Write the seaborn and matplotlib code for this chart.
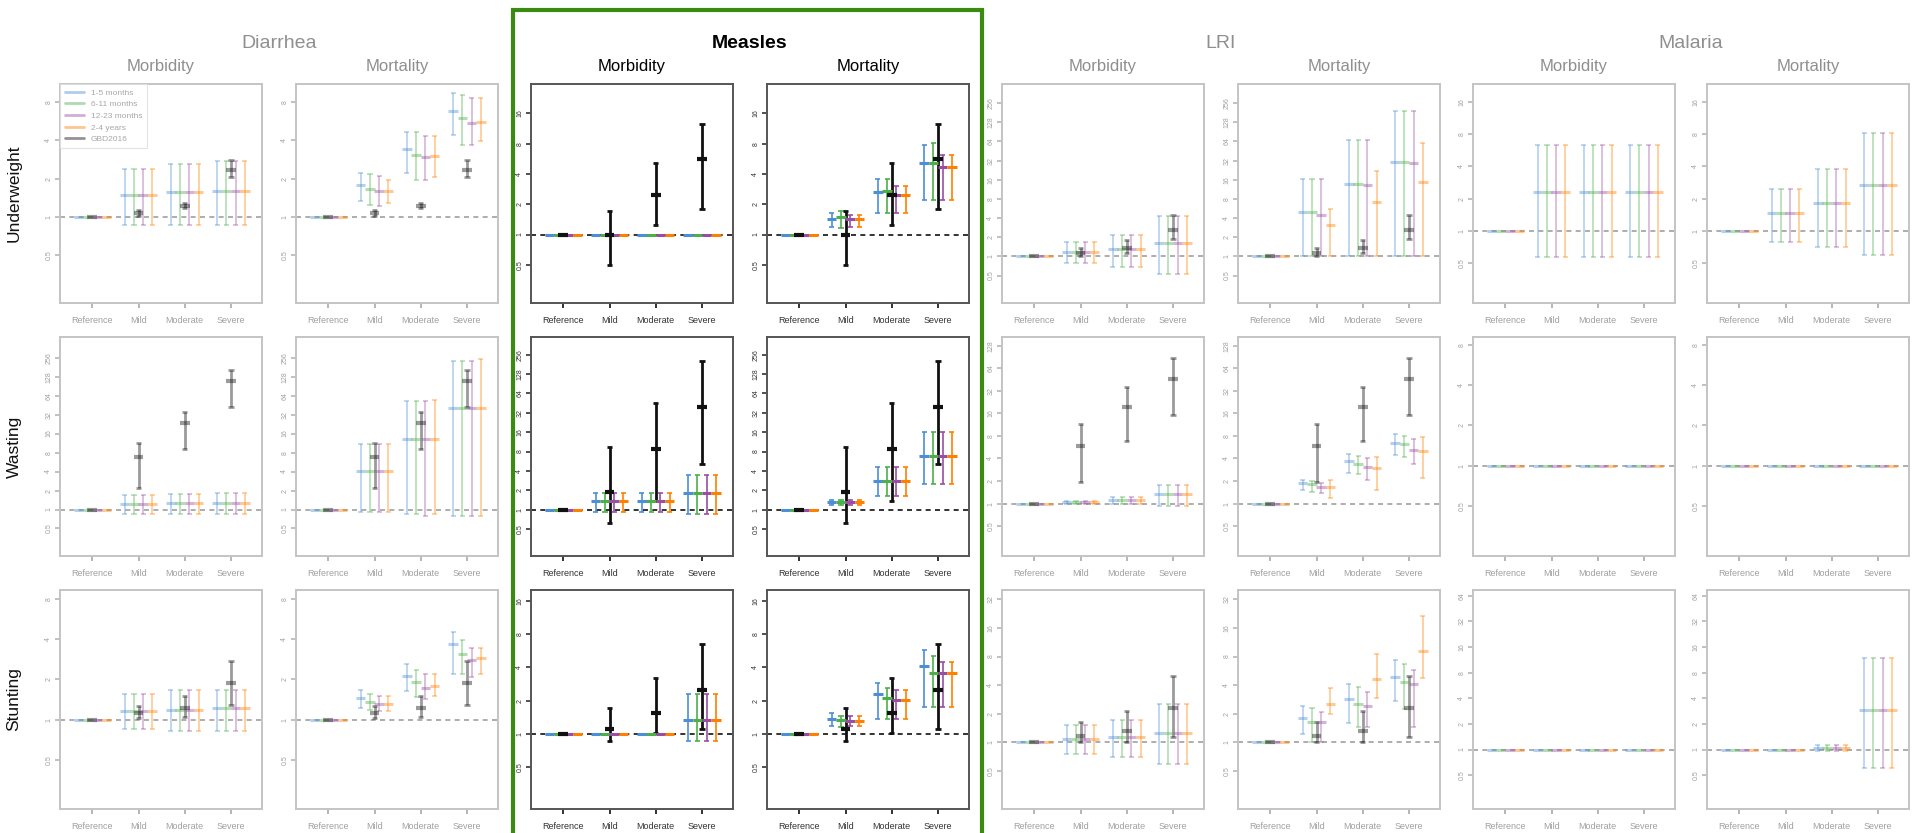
import numpy as np
import pandas as pd
import matplotlib
matplotlib.use("Agg")
import matplotlib.pyplot as plt
from matplotlib.lines import Line2D
from matplotlib.patches import Rectangle
from matplotlib.ticker import FixedLocator, FixedFormatter, NullLocator
import seaborn as sns

n = np.nan

CATEGORIES = ["Reference", "Mild", "Moderate", "Severe"]
SERIES = ["1-5 months", "6-11 months", "12-23 months", "2-4 years", "GBD2016"]
DISEASES = ["Diarrhea", "Measles", "LRI", "Malaria"]
OUTCOMES = ["Morbidity", "Mortality"]
INDICATORS = ["Underweight", "Wasting", "Stunting"]
HIGHLIGHT = "Measles"

# Rows of each array: 1-5 months, 6-11 months, 12-23 months, 2-4 years, GBD2016
# Columns: Reference, Mild, Moderate, Severe
# ---------------- Underweight ----------------
UW_DIAR_MORB_MEAN = [[1, 1.50, 1.56, 1.61], [1, 1.50, 1.56, 1.61], [1, 1.50, 1.56, 1.61], [1, 1.50, 1.56, 1.61], [1, 1.07, 1.23, 2.33]]
UW_DIAR_MORB_LO = [[n, 0.87, 0.87, 0.87], [n, 0.87, 0.87, 0.87], [n, 0.87, 0.87, 0.87], [n, 0.87, 0.87, 0.87], [n, 1.02, 1.17, 2.07]]
UW_DIAR_MORB_HI = [[n, 2.40, 2.59, 2.77], [n, 2.40, 2.59, 2.77], [n, 2.40, 2.59, 2.77], [n, 2.40, 2.59, 2.77], [n, 1.13, 1.29, 2.80]]

UW_DIAR_MORT_MEAN = [[1, 1.78, 3.44, 6.76], [1, 1.67, 3.09, 5.95], [1, 1.61, 2.94, 5.47], [1, 1.61, 3.00, 5.54], [1, 1.07, 1.23, 2.33]]
UW_DIAR_MORT_LO = [[n, 1.34, 2.22, 4.43], [n, 1.25, 1.96, 3.70], [n, 1.23, 1.96, 3.70], [n, 1.30, 2.06, 3.93], [n, 1.02, 1.17, 2.07]]
UW_DIAR_MORT_HI = [[n, 2.20, 4.65, 9.41], [n, 2.18, 4.65, 9.13], [n, 2.09, 4.30, 8.55], [n, 1.96, 4.30, 8.55], [n, 1.13, 1.29, 2.80]]

UW_MEAS_MORB_MEAN = [[1, 1, 1, 1], [1, 1, 1, 1], [1, 1, 1, 1], [1, 1, 1, 1], [1, 1.00, 2.49, 5.64]]
UW_MEAS_MORB_LO = [[n, n, n, n], [n, n, n, n], [n, n, n, n], [n, n, n, n], [n, 0.50, 1.25, 1.80]]
UW_MEAS_MORB_HI = [[n, n, n, n], [n, n, n, n], [n, n, n, n], [n, n, n, n], [n, 1.73, 5.14, 12.4]]

UW_MEAS_MORT_MEAN = [[1, 1.43, 2.67, 5.14], [1, 1.50, 2.73, 5.14], [1, 1.43, 2.49, 4.69], [1, 1.43, 2.49, 4.69], [1, 1.00, 2.49, 5.64]]
UW_MEAS_MORT_LO = [[n, 1.18, 1.64, 2.22], [n, 1.15, 1.64, 2.22], [n, 1.18, 1.64, 2.22], [n, 1.18, 1.64, 2.22], [n, 0.50, 1.25, 1.80]]
UW_MEAS_MORT_HI = [[n, 1.64, 3.57, 7.82], [n, 1.70, 3.57, 8.13], [n, 1.58, 3.02, 6.22], [n, 1.56, 3.06, 6.22], [n, 1.73, 5.14, 12.4]]

UW_LRI_MORB_MEAN = [[1, 1.17, 1.30, 1.62], [1, 1.17, 1.30, 1.62], [1, 1.17, 1.30, 1.62], [1, 1.17, 1.30, 1.62], [1, 1.13, 1.35, 2.62]]
UW_LRI_MORB_LO = [[n, 0.79, 0.67, 0.53], [n, 0.79, 0.67, 0.53], [n, 0.79, 0.67, 0.53], [n, 0.79, 0.67, 0.53], [n, 1.00, 1.13, 1.87]]
UW_LRI_MORB_HI = [[n, 1.68, 2.19, 4.25], [n, 1.68, 2.19, 4.25], [n, 1.68, 2.19, 4.25], [n, 1.68, 2.19, 4.25], [n, 1.35, 1.78, 4.51]]

UW_LRI_MORT_MEAN = [[1, 4.91, 13.8, 30.3], [1, 4.91, 13.8, 30.3], [1, 4.51, 13.2, 29.2], [1, 3.10, 7.05, 14.5], [1, 1.13, 1.35, 2.62]]
UW_LRI_MORT_LO = [[n, 1.0, 1.0, 1.0], [n, 1.0, 1.0, 1.0], [n, 1.0, 1.0, 1.0], [n, 1.0, 1.0, 1.0], [n, 1.00, 1.13, 1.87]]
UW_LRI_MORT_HI = [[n, 16.6, 66.4, 194], [n, 16.6, 66.4, 194], [n, 16.6, 66.4, 194], [n, 5.61, 22.2, 60.3], [n, 1.35, 1.78, 4.51]]

UW_MAL_MORB_MEAN = [[1, 2.30, 2.30, 2.30], [1, 2.30, 2.30, 2.30], [1, 2.30, 2.30, 2.30], [1, 2.30, 2.30, 2.30], [n, n, n, n]]
UW_MAL_MORB_LO = [[n, 0.57, 0.57, 0.57], [n, 0.57, 0.57, 0.57], [n, 0.57, 0.57, 0.57], [n, 0.57, 0.57, 0.57], [n, n, n, n]]
UW_MAL_MORB_HI = [[n, 6.38, 6.38, 6.38], [n, 6.38, 6.38, 6.38], [n, 6.38, 6.38, 6.38], [n, 6.38, 6.38, 6.38], [n, n, n, n]]

UW_MAL_MORT_MEAN = [[1, 1.46, 1.82, 2.69], [1, 1.46, 1.82, 2.69], [1, 1.46, 1.82, 2.69], [1, 1.46, 1.82, 2.69], [n, n, n, n]]
UW_MAL_MORT_LO = [[n, 0.79, 0.70, 0.59], [n, 0.79, 0.70, 0.59], [n, 0.79, 0.70, 0.59], [n, 0.79, 0.70, 0.59], [n, n, n, n]]
UW_MAL_MORT_HI = [[n, 2.47, 3.80, 8.20], [n, 2.47, 3.80, 8.20], [n, 2.47, 3.80, 8.20], [n, 2.47, 3.80, 8.20], [n, n, n, n]]

# ---------------- Wasting ----------------
WA_DIAR_MORB_MEAN = [[1, 1.23, 1.26, 1.29], [1, 1.23, 1.26, 1.29], [1, 1.23, 1.26, 1.29], [1, 1.23, 1.26, 1.29], [1, 6.70, 23.9, 109]]
WA_DIAR_MORB_LO = [[n, 0.85, 0.85, 0.85], [n, 0.85, 0.85, 0.85], [n, 0.85, 0.85, 0.85], [n, 0.85, 0.85, 0.85], [n, 2.20, 9.07, 42.8]]
WA_DIAR_MORB_HI = [[n, 1.68, 1.77, 1.86], [n, 1.68, 1.77, 1.86], [n, 1.68, 1.77, 1.86], [n, 1.68, 1.77, 1.86], [n, 11.3, 35.7, 162]]

WA_DIAR_MORT_MEAN = [[1, 4.03, 13.1, 41.3], [1, 4.03, 13.1, 41.3], [1, 4.03, 13.1, 41.3], [1, 4.03, 13.1, 41.3], [1, 6.70, 23.9, 109]]
WA_DIAR_MORT_LO = [[n, 0.91, 0.85, 0.80], [n, 0.91, 0.85, 0.80], [n, 0.91, 0.80, 0.78], [n, 0.91, 0.85, 0.80], [n, 2.20, 9.07, 42.8]]
WA_DIAR_MORT_HI = [[n, 11.0, 52.6, 228], [n, 11.0, 52.6, 228], [n, 11.0, 52.6, 228], [n, 11.0, 55.0, 240], [n, 11.3, 35.7, 162]]

WA_MEAS_MORB_MEAN = [[1, 1.35, 1.35, 1.79], [1, 1.35, 1.35, 1.79], [1, 1.35, 1.35, 1.79], [1, 1.35, 1.35, 1.79], [1, 1.88, 8.81, 39.9]]
WA_MEAS_MORB_LO = [[n, 0.91, 0.91, 0.87], [n, 0.91, 0.91, 0.87], [n, 0.91, 0.91, 0.87], [n, 0.91, 0.91, 0.87], [n, 0.61, 1.35, 5.10]]
WA_MEAS_MORB_HI = [[n, 1.81, 1.81, 3.40], [n, 1.81, 1.81, 3.40], [n, 1.81, 1.81, 3.40], [n, 1.81, 1.81, 3.40], [n, 9.35, 44.9, 206]]

WA_MEAS_MORT_MEAN = [[1, 1.30, 2.75, 6.94], [1, 1.30, 2.75, 6.94], [1, 1.30, 2.75, 6.94], [1, 1.30, 2.75, 6.94], [1, 1.88, 8.81, 39.9]]
WA_MEAS_MORT_LO = [[n, 1.18, 1.65, 2.53], [n, 1.18, 1.65, 2.53], [n, 1.18, 1.65, 2.53], [n, 1.18, 1.65, 2.53], [n, 0.61, 1.35, 5.10]]
WA_MEAS_MORT_HI = [[n, 1.43, 4.53, 16.2], [n, 1.43, 4.53, 16.2], [n, 1.43, 4.53, 16.2], [n, 1.43, 4.53, 16.2], [n, 9.35, 44.9, 206]]

WA_LRI_MORB_MEAN = [[1, 1.04, 1.13, 1.34], [1, 1.04, 1.13, 1.34], [1, 1.04, 1.13, 1.34], [1, 1.04, 1.13, 1.34], [1, 5.89, 19.2, 45.3]]
WA_LRI_MORB_LO = [[n, 1.00, 1.00, 0.94], [n, 1.00, 1.00, 0.94], [n, 1.00, 1.00, 0.94], [n, 1.00, 1.00, 0.94], [n, 1.94, 6.87, 15.4]]
WA_LRI_MORB_HI = [[n, 1.09, 1.23, 1.75], [n, 1.09, 1.23, 1.75], [n, 1.09, 1.23, 1.75], [n, 1.09, 1.23, 1.75], [n, 11.7, 35.4, 88.7]]

WA_LRI_MORT_MEAN = [[1, 1.88, 3.65, 6.39], [1, 1.84, 3.40, 6.20], [1, 1.65, 3.04, 5.21], [1, 1.65, 2.98, 5.06], [1, 5.89, 19.2, 45.3]]
WA_LRI_MORT_LO = [[n, 1.50, 2.55, 4.47], [n, 1.43, 2.50, 4.25], [n, 1.39, 2.08, 3.40], [n, 1.19, 1.53, 2.19], [n, 1.94, 6.87, 15.4]]
WA_LRI_MORT_HI = [[n, 2.08, 4.61, 8.50], [n, 1.98, 4.34, 8.08], [n, 1.88, 4.12, 7.22], [n, 2.08, 4.25, 7.68], [n, 11.7, 35.4, 88.7]]

WA_MAL_MORB_MEAN = [[1, 1, 1, 1], [1, 1, 1, 1], [1, 1, 1, 1], [1, 1, 1, 1], [n, n, n, n]]
WA_MAL_MORB_LO = [[n, n, n, n], [n, n, n, n], [n, n, n, n], [n, n, n, n], [n, n, n, n]]
WA_MAL_MORB_HI = [[n, n, n, n], [n, n, n, n], [n, n, n, n], [n, n, n, n], [n, n, n, n]]

WA_MAL_MORT_MEAN = [[1, 1, 1, 1], [1, 1, 1, 1], [1, 1, 1, 1], [1, 1, 1, 1], [n, n, n, n]]
WA_MAL_MORT_LO = [[n, n, n, n], [n, n, n, n], [n, n, n, n], [n, n, n, n], [n, n, n, n]]
WA_MAL_MORT_HI = [[n, n, n, n], [n, n, n, n], [n, n, n, n], [n, n, n, n], [n, n, n, n]]

# ---------------- Stunting ----------------
ST_DIAR_MORB_MEAN = [[1, 1.17, 1.19, 1.22], [1, 1.17, 1.19, 1.22], [1, 1.17, 1.19, 1.22], [1, 1.17, 1.19, 1.22], [1, 1.13, 1.22, 1.87]]
ST_DIAR_MORB_LO = [[n, 0.86, 0.83, 0.82], [n, 0.86, 0.83, 0.82], [n, 0.86, 0.83, 0.82], [n, 0.86, 0.83, 0.82], [n, 1.03, 1.05, 1.29]]
ST_DIAR_MORB_HI = [[n, 1.55, 1.67, 1.67], [n, 1.55, 1.67, 1.67], [n, 1.55, 1.67, 1.67], [n, 1.55, 1.67, 1.67], [n, 1.27, 1.51, 2.75]]

ST_DIAR_MORT_MEAN = [[1, 1.45, 2.12, 3.65], [1, 1.35, 1.91, 3.08], [1, 1.31, 1.72, 2.79], [1, 1.31, 1.79, 2.87], [1, 1.13, 1.22, 1.87]]
ST_DIAR_MORT_LO = [[n, 1.22, 1.65, 2.19], [n, 1.19, 1.49, 2.19], [n, 1.17, 1.43, 2.10], [n, 1.17, 1.51, 2.19], [n, 1.03, 1.05, 1.29]]
ST_DIAR_MORT_HI = [[n, 1.67, 2.59, 4.53], [n, 1.56, 2.35, 3.93], [n, 1.51, 2.19, 3.41], [n, 1.51, 2.19, 3.41], [n, 1.27, 1.51, 2.75]]

ST_MEAS_MORB_MEAN = [[1, 1, 1, 1.34], [1, 1, 1, 1.34], [1, 1, 1, 1.34], [1, 1, 1, 1.34], [1, 1.11, 1.54, 2.50]]
ST_MEAS_MORB_LO = [[n, n, n, 0.87], [n, n, n, 0.87], [n, n, n, 0.87], [n, n, n, 0.87], [n, 0.87, 1.03, 1.12]]
ST_MEAS_MORB_HI = [[n, n, n, 2.28], [n, n, n, 2.28], [n, n, n, 2.28], [n, n, n, 2.28], [n, 1.73, 3.18, 6.50]]

ST_MEAS_MORT_MEAN = [[1, 1.37, 2.30, 4.11], [1, 1.34, 2.10, 3.58], [1, 1.31, 2.03, 3.53], [1, 1.31, 2.03, 3.53], [1, 1.11, 1.54, 2.50]]
ST_MEAS_MORT_LO = [[n, 1.18, 1.38, 1.77], [n, 1.16, 1.38, 1.77], [n, 1.18, 1.38, 1.77], [n, 1.18, 1.38, 1.77], [n, 0.87, 1.03, 1.12]]
ST_MEAS_MORT_HI = [[n, 1.56, 2.87, 5.74], [n, 1.45, 2.62, 5.06], [n, 1.45, 2.50, 4.50], [n, 1.45, 2.50, 4.50], [n, 1.73, 3.18, 6.50]]

ST_LRI_MORB_MEAN = [[1, 1.09, 1.14, 1.27], [1, 1.09, 1.14, 1.27], [1, 1.09, 1.14, 1.27], [1, 1.09, 1.14, 1.27], [1, 1.16, 1.33, 2.33]]
ST_LRI_MORB_LO = [[n, 0.75, 0.71, 0.59], [n, 0.75, 0.71, 0.59], [n, 0.75, 0.71, 0.59], [n, 0.75, 0.71, 0.59], [n, 1.00, 1.00, 1.13]]
ST_LRI_MORB_HI = [[n, 1.51, 1.73, 2.55], [n, 1.51, 1.73, 2.55], [n, 1.51, 1.73, 2.55], [n, 1.51, 1.73, 2.55], [n, 1.64, 2.15, 5.01]]

ST_LRI_MORT_MEAN = [[1, 1.80, 2.87, 4.93], [1, 1.64, 2.53, 4.30], [1, 1.64, 2.43, 4.10], [1, 2.53, 4.62, 9.25], [1, 1.16, 1.33, 2.33]]
ST_LRI_MORT_LO = [[n, 1.22, 1.62, 2.76], [n, 1.00, 1.47, 2.24], [n, 1.00, 1.47, 1.47], [n, 1.98, 2.92, 4.74], [n, 1.00, 1.00, 1.13]]
ST_LRI_MORT_HI = [[n, 2.43, 4.10, 7.38], [n, 2.29, 3.87, 6.70], [n, 2.11, 3.38, 5.80], [n, 3.72, 8.53, 21.4], [n, 1.64, 2.15, 5.01]]

ST_MAL_MORB_MEAN = [[1, 1, 1, 1], [1, 1, 1, 1], [1, 1, 1, 1], [1, 1, 1, 1], [n, n, n, n]]
ST_MAL_MORB_LO = [[n, n, n, n], [n, n, n, n], [n, n, n, n], [n, n, n, n], [n, n, n, n]]
ST_MAL_MORB_HI = [[n, n, n, n], [n, n, n, n], [n, n, n, n], [n, n, n, n], [n, n, n, n]]

ST_MAL_MORT_MEAN = [[1, 1, 1.05, 2.95], [1, 1, 1.05, 2.95], [1, 1, 1.05, 2.95], [1, 1, 1.05, 2.95], [n, n, n, n]]
ST_MAL_MORT_LO = [[n, n, 0.96, 0.60], [n, n, 0.96, 0.60], [n, n, 0.96, 0.60], [n, n, 0.96, 0.60], [n, n, n, n]]
ST_MAL_MORT_HI = [[n, n, 1.14, 11.9], [n, n, 1.14, 11.9], [n, n, 1.14, 11.9], [n, n, 1.14, 11.9], [n, n, n, n]]

PANELS = {
    ("Underweight", "Diarrhea", "Morbidity"): (UW_DIAR_MORB_MEAN, UW_DIAR_MORB_LO, UW_DIAR_MORB_HI),
    ("Underweight", "Diarrhea", "Mortality"): (UW_DIAR_MORT_MEAN, UW_DIAR_MORT_LO, UW_DIAR_MORT_HI),
    ("Underweight", "Measles", "Morbidity"): (UW_MEAS_MORB_MEAN, UW_MEAS_MORB_LO, UW_MEAS_MORB_HI),
    ("Underweight", "Measles", "Mortality"): (UW_MEAS_MORT_MEAN, UW_MEAS_MORT_LO, UW_MEAS_MORT_HI),
    ("Underweight", "LRI", "Morbidity"): (UW_LRI_MORB_MEAN, UW_LRI_MORB_LO, UW_LRI_MORB_HI),
    ("Underweight", "LRI", "Mortality"): (UW_LRI_MORT_MEAN, UW_LRI_MORT_LO, UW_LRI_MORT_HI),
    ("Underweight", "Malaria", "Morbidity"): (UW_MAL_MORB_MEAN, UW_MAL_MORB_LO, UW_MAL_MORB_HI),
    ("Underweight", "Malaria", "Mortality"): (UW_MAL_MORT_MEAN, UW_MAL_MORT_LO, UW_MAL_MORT_HI),
    ("Wasting", "Diarrhea", "Morbidity"): (WA_DIAR_MORB_MEAN, WA_DIAR_MORB_LO, WA_DIAR_MORB_HI),
    ("Wasting", "Diarrhea", "Mortality"): (WA_DIAR_MORT_MEAN, WA_DIAR_MORT_LO, WA_DIAR_MORT_HI),
    ("Wasting", "Measles", "Morbidity"): (WA_MEAS_MORB_MEAN, WA_MEAS_MORB_LO, WA_MEAS_MORB_HI),
    ("Wasting", "Measles", "Mortality"): (WA_MEAS_MORT_MEAN, WA_MEAS_MORT_LO, WA_MEAS_MORT_HI),
    ("Wasting", "LRI", "Morbidity"): (WA_LRI_MORB_MEAN, WA_LRI_MORB_LO, WA_LRI_MORB_HI),
    ("Wasting", "LRI", "Mortality"): (WA_LRI_MORT_MEAN, WA_LRI_MORT_LO, WA_LRI_MORT_HI),
    ("Wasting", "Malaria", "Morbidity"): (WA_MAL_MORB_MEAN, WA_MAL_MORB_LO, WA_MAL_MORB_HI),
    ("Wasting", "Malaria", "Mortality"): (WA_MAL_MORT_MEAN, WA_MAL_MORT_LO, WA_MAL_MORT_HI),
    ("Stunting", "Diarrhea", "Morbidity"): (ST_DIAR_MORB_MEAN, ST_DIAR_MORB_LO, ST_DIAR_MORB_HI),
    ("Stunting", "Diarrhea", "Mortality"): (ST_DIAR_MORT_MEAN, ST_DIAR_MORT_LO, ST_DIAR_MORT_HI),
    ("Stunting", "Measles", "Morbidity"): (ST_MEAS_MORB_MEAN, ST_MEAS_MORB_LO, ST_MEAS_MORB_HI),
    ("Stunting", "Measles", "Mortality"): (ST_MEAS_MORT_MEAN, ST_MEAS_MORT_LO, ST_MEAS_MORT_HI),
    ("Stunting", "LRI", "Morbidity"): (ST_LRI_MORB_MEAN, ST_LRI_MORB_LO, ST_LRI_MORB_HI),
    ("Stunting", "LRI", "Mortality"): (ST_LRI_MORT_MEAN, ST_LRI_MORT_LO, ST_LRI_MORT_HI),
    ("Stunting", "Malaria", "Morbidity"): (ST_MAL_MORB_MEAN, ST_MAL_MORB_LO, ST_MAL_MORB_HI),
    ("Stunting", "Malaria", "Mortality"): (ST_MAL_MORT_MEAN, ST_MAL_MORT_LO, ST_MAL_MORT_HI),
}

# Log2 axis: limits and labelled ticks per (indicator, disease)
YTICKS_8 = [0.5, 1, 2, 4, 8]
YTICKS_16 = [0.5, 1, 2, 4, 8, 16]
YTICKS_32 = [0.5, 1, 2, 4, 8, 16, 32]
YTICKS_64 = [0.5, 1, 2, 4, 8, 16, 32, 64]
YTICKS_128 = [0.5, 1, 2, 4, 8, 16, 32, 64, 128]
YTICKS_256 = [0.5, 1, 2, 4, 8, 16, 32, 64, 128, 256]
Y_AXES = {
    ("Underweight", "Diarrhea"): ((0.211, 11.1), YTICKS_8),
    ("Underweight", "Measles"): ((0.209, 31.3), YTICKS_16),
    ("Underweight", "LRI"): ((0.185, 509), YTICKS_256),
    ("Underweight", "Malaria"): ((0.211, 23.6), YTICKS_16),
    ("Wasting", "Diarrhea"): ((0.183, 545), YTICKS_256),
    ("Wasting", "Measles"): ((0.19, 484), YTICKS_256),
    ("Wasting", "LRI"): ((0.20, 167), YTICKS_128),
    ("Wasting", "Malaria"): ((0.21, 9.2), YTICKS_8),
    ("Stunting", "Diarrhea"): ((0.216, 9.3), YTICKS_8),
    ("Stunting", "Measles"): ((0.21, 20), YTICKS_16),
    ("Stunting", "LRI"): ((0.20, 40), YTICKS_32),
    ("Stunting", "Malaria"): ((0.20, 75), YTICKS_64),
}

PALETTE = {
    "1-5 months": "#4d8fd6",
    "6-11 months": "#4daf4a",
    "12-23 months": "#984ea3",
    "2-4 years": "#ff7f00",
    "GBD2016": "#111111",
}
OFFSETS = [-0.3, -0.1, 0.1, 0.3, 0.0]

sns.set_theme(style="white")
plt.rcParams["font.family"] = ["Liberation Sans", "DejaVu Sans"]

W, H = 1913, 833
fig = plt.figure(figsize=(W / 100, H / 100), dpi=100)

COL_LEFT = [60, 296, 531, 767, 1002, 1238, 1473, 1707]
ROW_TOP = [84, 337, 590]
AX_W, AX_H = 202, 219


def fmt_tick(t):
    return "0.5" if t < 1 else str(int(t))


def draw_panel(ax, mean, lo, hi, ylim, yticks, hl):
    a = 1.0 if hl else 0.42
    recs = []
    for si, s in enumerate(SERIES):
        for ci in range(len(CATEGORIES)):
            m = mean[si][ci]
            if m is None or np.isnan(m):
                continue
            recs.append({"series": s, "x": ci + OFFSETS[si], "rr": m,
                         "lo": lo[si][ci], "hi": hi[si][ci], "gbd": s == "GBD2016"})
    df = pd.DataFrame(recs)
    ax.set_yscale("log", base=2)
    ax.axhline(1, color="#111111" if hl else "#777777", lw=1.2,
               ls=(0, (3, 2.6)), zorder=1, alpha=1.0 if hl else 0.7)
    for r in df.itertuples():
        if np.isnan(r.lo):
            continue
        c = PALETTE[r.series]
        lw = 2.0 if r.gbd else 1.2
        z = 3 if r.gbd else 2
        ax.vlines(r.x, r.lo, r.hi, colors=c, lw=lw, alpha=a, zorder=z)
        ax.hlines([r.lo, r.hi], r.x - 0.055, r.x + 0.055, colors=c, lw=lw, alpha=a, zorder=z)
    ages = df[~df["gbd"]]
    sns.scatterplot(data=ages, x="x", y="rr", hue="series", palette=PALETTE,
                    marker="_", s=46, linewidth=2.2, alpha=a, legend=False,
                    ax=ax, zorder=4)
    g = df[df["gbd"]]
    if len(g):
        sns.scatterplot(data=g, x="x", y="rr", hue="series", palette=PALETTE,
                        marker="_", s=50, linewidth=3.0, alpha=a, legend=False,
                        ax=ax, zorder=5)
    ax.set_xlabel("")
    ax.set_ylabel("")
    ax.set_xlim(-0.7, 3.67)
    ax.set_ylim(*ylim)
    ax.yaxis.set_major_locator(FixedLocator(yticks))
    ax.yaxis.set_major_formatter(FixedFormatter([fmt_tick(t) for t in yticks]))
    ax.yaxis.set_minor_locator(NullLocator())
    ax.set_xticks(range(len(CATEGORIES)))
    ax.set_xticklabels(CATEGORIES)
    tick_c = "#222222" if hl else "#b0b0b0"
    lab_c = "#333333" if hl else "#a0a0a0"
    ax.tick_params(axis="y", which="major", left=True, labelsize=5, length=3.5,
                   width=1.1, pad=2, color=tick_c, labelcolor=lab_c, labelrotation=90)
    ax.tick_params(axis="x", which="major", bottom=True, labelsize=6.5, length=3.5,
                   width=1.3, pad=6, color=tick_c, labelcolor=lab_c)
    for lab in ax.get_yticklabels():
        lab.set_verticalalignment("center")
    for sp in ax.spines.values():
        sp.set_visible(True)
        sp.set_color("#555555" if hl else "#c4c4c4")
        sp.set_linewidth(1.4)


for ri, ind in enumerate(INDICATORS):
    for di, dis in enumerate(DISEASES):
        for oi, out in enumerate(OUTCOMES):
            col = di * 2 + oi
            ax = fig.add_axes([COL_LEFT[col] / W, (H - ROW_TOP[ri] - AX_H) / H, AX_W / W, AX_H / H])
            mean, lo, hi = PANELS[(ind, dis, out)]
            ylim, yticks = Y_AXES[(ind, dis)]
            hl = dis == HIGHLIGHT
            draw_panel(ax, mean, lo, hi, ylim, yticks, hl)
            if ri == 0 and di == 0 and oi == 0:
                handles = [Line2D([0], [0], color=PALETTE[s], lw=2, alpha=0.45) for s in SERIES]
                leg = ax.legend(handles, SERIES, loc="upper left", fontsize=6,
                                frameon=True, borderaxespad=0.0, handlelength=2.3,
                                labelspacing=0.45, borderpad=0.6, labelcolor="#a8a8a8",
                                fancybox=False)
                leg.get_frame().set_edgecolor("#dddddd")
                leg.get_frame().set_linewidth(0.8)
            if ri == 0:
                cx = (COL_LEFT[col] + AX_W / 2) / W
                fig.text(cx, (H - 66) / H, out, ha="center", va="center", fontsize=12,
                         color="#000000" if hl else "#8f8f8f")
        if ri == 0:
            cx = (COL_LEFT[di * 2] + COL_LEFT[di * 2 + 1] + AX_W) / 2 / W
            hl = dis == HIGHLIGHT
            fig.text(cx, (H - 43) / H, dis, ha="center", va="center", fontsize=14,
                     color="#000000" if hl else "#8f8f8f",
                     fontweight="bold" if hl else "normal")
    fig.text(14 / W, (H - ROW_TOP[ri] - AX_H / 2) / H, ind, rotation=90,
             ha="center", va="center", fontsize=12.5, color="#111111")

fig.add_artist(Rectangle((513 / W, -0.02), (982 - 513) / W, (H - 10) / H + 0.02,
                         transform=fig.transFigure, fill=False, edgecolor="#3b8a12",
                         lw=3.0, clip_on=False))

fig.savefig("out.png", dpi=100)
